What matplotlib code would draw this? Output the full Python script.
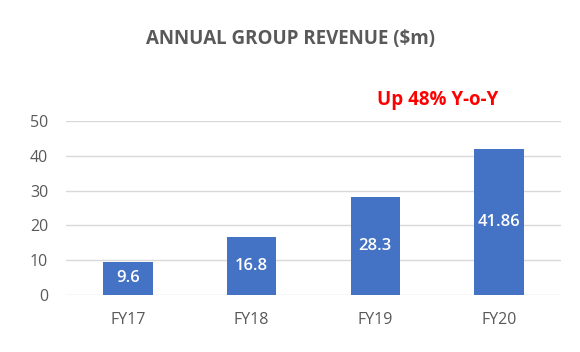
import matplotlib.pyplot as plt

plt.rcParams['font.family'] = ['Open Sans', 'DejaVu Sans']

years = ['FY17', 'FY18', 'FY19', 'FY20']
revenue = [9.6, 16.8, 28.3, 41.86]
labels = ['9.6', '16.8', '28.3', '41.86']
yticks = [0, 10, 20, 30, 40, 50]

fig = plt.figure(figsize=(5.8, 3.52), dpi=100)
ax = fig.add_axes([0.114, 0.162, 0.853, 0.494])

x = range(len(years))
bars = ax.bar(x, revenue, width=0.4, color='#4472C4', zorder=3)

# labels sit in the middle of each bar
for b, lab in zip(bars, labels):
    ax.text(b.get_x() + b.get_width() / 2, b.get_height() / 2, lab,
            ha='center', va='center', color='white', fontsize=12,
            fontweight='semibold', zorder=4)

ax.set_xlim(-0.5, len(years) - 0.5)
ax.set_ylim(0, 50)
ax.set_yticks(yticks)
ax.set_xticks(list(x))
ax.set_xticklabels(years)
ax.grid(axis='y', color='#d9d9d9', linewidth=1, zorder=0)
for s in ax.spines.values():
    s.set_visible(False)
ax.tick_params(axis='both', length=0, colors='#595959', labelsize=11.5)
ax.tick_params(axis='y', pad=13)
ax.tick_params(axis='x', pad=12)

fig.text(0.5, 0.89, 'ANNUAL GROUP REVENUE ($m)', ha='center', va='center',
         fontsize=13.5, fontweight='bold', color='#595959')
fig.text(0.755, 0.715, 'Up 48% Y-o-Y', ha='center', va='center',
         fontsize=13.5, fontweight='bold', color='#ff0000')

fig.savefig('out.png', dpi=100)
